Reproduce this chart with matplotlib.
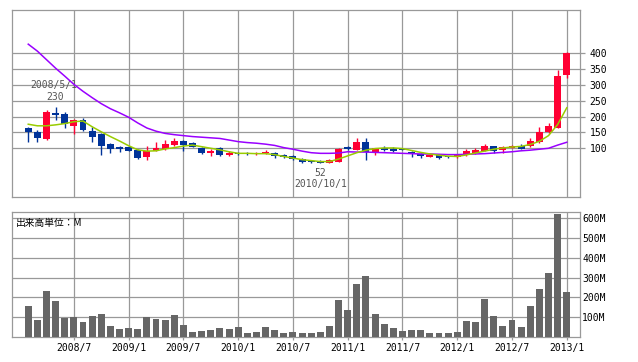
import matplotlib
matplotlib.use("Agg")
import matplotlib.pyplot as plt
import numpy as np

# ---- data (monthly, 2008/2 .. 2013/1) ----
start_year, start_month = 2008, 2
opens  = [165,152,128,212,208,171,190,155,144,114,103,105,
          95,72,92,98,110,123,116,102,84,100,78,86,
          86,81,84,86,79,74,66,61,60,55,58,104,
          95,121,87,100,98,97,89,81,73,79,76,72,
          79,84,92,107,95,102,107,107,119,150,165,332]
closes = [152,132,214,205,176,189,159,137,108,98,98,92,
          70,92,101,114,124,110,105,84,92,78,86,82,
          81,85,89,76,72,65,57,57,55,63,99,97,
          121,89,100,96,92,95,81,77,79,68,72,80,
          91,95,107,92,105,107,99,124,150,170,328,400]
highs  = [168,158,221,230,216,192,195,168,147,118,108,107,
          97,107,119,126,132,126,120,104,99,103,92,88,
          88,88,95,89,82,78,70,64,62,66,101,106,
          133,132,101,107,103,99,90,85,80,80,77,82,
          97,100,114,108,107,111,113,132,166,181,347,403]
lows   = [121,121,127,189,165,144,155,121,79,84,89,90,
          67,63,90,96,108,92,103,83,76,74,77,80,
          78,80,82,70,68,63,54,55,52,53,57,95,
          93,63,79,92,87,94,73,70,72,66,70,70,
          74,82,90,85,86,100,98,105,117,148,163,321]
ma_short = [176,171,171,174,178,184,186,168,152,137,123,108,
            95,91,92,98,102,107,110,105,100,95,89,84,
            84,83,83,80,74,69,64,61,58,58,66,76,
            86,94,99,101,101,99,93,87,82,78,75,74,
            79,85,91,97,101,104,106,112,122,140,175,228]
ma_long = [429,407,380,353,328,302,280,260,241,225,212,198,
           180,164,154,147,143,140,137,135,133,131,126,121,
           118,116,113,109,102,97,91,86,84,84,85,89,
           88,88,87,86,85,84,83,82,82,81,80,80,
           81,82,83,85,87,89,92,94,97,100,110,119]
volume_m = [157,86,234,183,97,101,76,107,117,56,42,47,
            42,101,91,86,112,61,25,30,35,47,42,51,
            20,25,51,35,20,25,21,21,27,57,188,137,
            269,310,117,66,46,30,35,35,22,22,22,27,
            81,76,193,107,56,86,51,157,244,325,622,228]
xtick_labels = ["2008/7","2009/1","2009/7","2010/1","2010/7",
                "2011/1","2011/7","2012/1","2012/7","2013/1"]
price_ticks = [100,150,200,250,300,350,400]
vol_ticks = [100,200,300,400,500,600]
vol_tick_labels = ["100M","200M","300M","400M","500M","600M"]
high_mark_month = "2008/5"
low_mark_month = "2010/10"

months = []
y, m = start_year, start_month
for _ in range(len(opens)):
    months.append(f"{y}/{m}")
    m += 1
    if m > 12:
        m = 1
        y += 1
x = np.arange(len(months))
xtick_pos = [months.index(s) for s in xtick_labels]

RED = "#ff0033"
BLUE = "#003399"
GREEN = "#99cc00"
PURPLE = "#9900ff"
GRID = "#999999"
MONO = ["DejaVu Sans Mono"]

W, H = 638, 362
fig = plt.figure(figsize=(W/100, H/100), dpi=100)
fig.patch.set_facecolor("white")

def fr(l, t, r, b):
    return [l/W, 1-b/H, (r-l)/W, (b-t)/H]

ax = fig.add_axes(fr(12, 10, 580, 197))
axv = fig.add_axes(fr(12, 212, 580, 337))

xlim = (-1.78, 60.45)

# ---- candles ----
o = np.array(opens); c = np.array(closes)
up = c >= o
colors = [RED if u else BLUE for u in up]
bottoms = np.minimum(o, c)
heights = np.maximum(np.abs(c - o), 2.5)
ax.vlines(x, lows, highs, colors=colors, linewidth=1.0, zorder=3)
ax.bar(x, heights, bottom=bottoms, width=0.76, color=colors, linewidth=0, zorder=4)
ax.plot(x, ma_long, color=PURPLE, linewidth=1.1, zorder=5)
ax.plot(x, ma_short, color=GREEN, linewidth=1.1, zorder=5)

ax.set_xlim(*xlim)
ax.set_ylim(-54, 537)
ax.set_yticks(price_ticks)
ax.set_xticks(xtick_pos)
ax.grid(True, color=GRID, linewidth=0.9, zorder=0)
ax.set_axisbelow(True)
ax.yaxis.tick_right()
ax.tick_params(axis="y", direction="out", length=3.8, width=0.9, color=GRID,
               pad=3, labelsize=7, labelcolor="black")
ax.tick_params(axis="x", length=0, labelbottom=False)
for lab in ax.get_yticklabels():
    lab.set_family(MONO)
for s in ax.spines.values():
    s.set_color(GRID); s.set_linewidth(0.9)

# annotations
i_hi = months.index(high_mark_month)
ax.annotate(f"{highs[i_hi]}", (x[i_hi], highs[i_hi]), xytext=(-0.5, 4), textcoords="offset points",
            ha="center", va="bottom", fontsize=7, color="#555555", family=MONO)
ax.annotate(months[i_hi] + "/1", (x[i_hi], highs[i_hi]), xytext=(-1, 12.5), textcoords="offset points",
            ha="center", va="bottom", fontsize=7, color="#555555", family=MONO)
i_lo = months.index(low_mark_month)
ax.annotate(f"{lows[i_lo]}", (x[i_lo], lows[i_lo]), xytext=(0, -3.5), textcoords="offset points",
            ha="center", va="top", fontsize=7, color="#555555", family=MONO)
ax.annotate(months[i_lo] + "/1", (x[i_lo], lows[i_lo]), xytext=(0, -11.5), textcoords="offset points",
            ha="center", va="top", fontsize=7, color="#555555", family=MONO)

# ---- volume ----
axv.bar(x, volume_m, width=0.76, color="#666666", linewidth=0, zorder=3)
axv.set_xlim(*xlim)
axv.set_ylim(0, 632)
axv.set_yticks(vol_ticks)
axv.set_yticklabels(vol_tick_labels)
axv.set_xticks(xtick_pos)
axv.set_xticklabels(xtick_labels)
axv.grid(True, color=GRID, linewidth=0.9, zorder=0)
axv.set_axisbelow(True)
axv.yaxis.tick_right()
axv.tick_params(axis="y", length=0, pad=1.5, labelsize=7, labelcolor="black")
axv.tick_params(axis="x", direction="out", length=2.5, width=0.9, color=GRID,
                pad=2, labelsize=7, labelcolor="black")
for lab in axv.get_yticklabels() + axv.get_xticklabels():
    lab.set_family(MONO)
for s in axv.spines.values():
    s.set_color(GRID); s.set_linewidth(0.9)
axv.text(0.007, 0.955, "出来高単位：M", transform=axv.transAxes, ha="left", va="top",
         fontsize=7, color="black", family=["Noto Sans CJK JP", "DejaVu Sans"])

fig.savefig("out.png", dpi=100, facecolor="white")
